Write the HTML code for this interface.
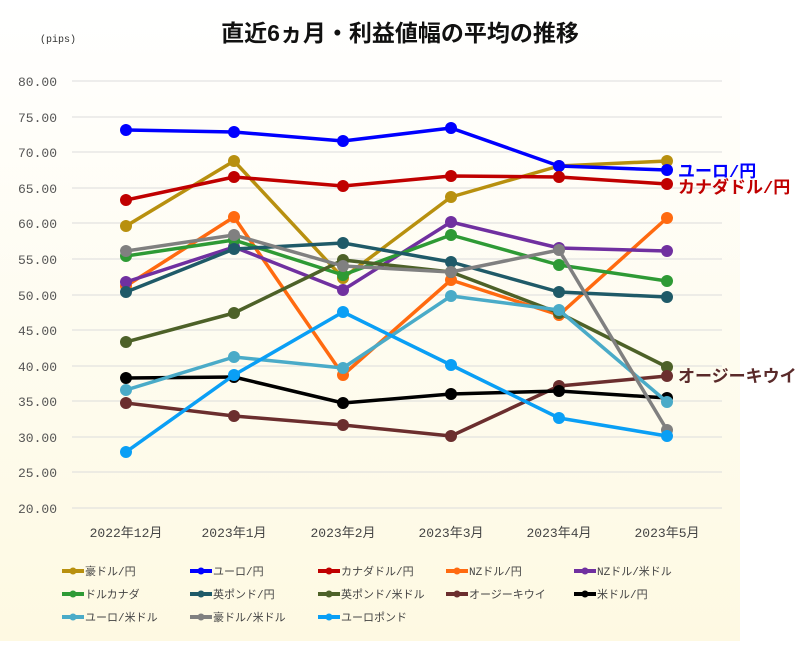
<!DOCTYPE html>
<html><head><meta charset="utf-8"><style>
body{margin:0;background:#fff}
text{font-family:"Liberation Mono","Noto Sans CJK JP",monospace}
</style></head><body>
<svg width="800" height="641" xmlns="http://www.w3.org/2000/svg">
<defs><linearGradient id="bg" x1="0" y1="0" x2="0" y2="1"><stop offset="0" stop-color="#ffffff"/><stop offset="1" stop-color="#fef9e2"/></linearGradient>
<marker id="m1" markerUnits="userSpaceOnUse" markerWidth="14" markerHeight="14" refX="7" refY="7"><circle cx="7" cy="7" r="6" fill="#b8900f"/></marker>
<marker id="m2" markerUnits="userSpaceOnUse" markerWidth="14" markerHeight="14" refX="7" refY="7"><circle cx="7" cy="7" r="6" fill="#0000ff"/></marker>
<marker id="m3" markerUnits="userSpaceOnUse" markerWidth="14" markerHeight="14" refX="7" refY="7"><circle cx="7" cy="7" r="6" fill="#c00000"/></marker>
<marker id="m4" markerUnits="userSpaceOnUse" markerWidth="14" markerHeight="14" refX="7" refY="7"><circle cx="7" cy="7" r="6" fill="#ff6a10"/></marker>
<marker id="m5" markerUnits="userSpaceOnUse" markerWidth="14" markerHeight="14" refX="7" refY="7"><circle cx="7" cy="7" r="6" fill="#7030a0"/></marker>
<marker id="m6" markerUnits="userSpaceOnUse" markerWidth="14" markerHeight="14" refX="7" refY="7"><circle cx="7" cy="7" r="6" fill="#2e9a35"/></marker>
<marker id="m7" markerUnits="userSpaceOnUse" markerWidth="14" markerHeight="14" refX="7" refY="7"><circle cx="7" cy="7" r="6" fill="#1f5a68"/></marker>
<marker id="m8" markerUnits="userSpaceOnUse" markerWidth="14" markerHeight="14" refX="7" refY="7"><circle cx="7" cy="7" r="6" fill="#4d6128"/></marker>
<marker id="m9" markerUnits="userSpaceOnUse" markerWidth="14" markerHeight="14" refX="7" refY="7"><circle cx="7" cy="7" r="6" fill="#6b2e2e"/></marker>
<marker id="m10" markerUnits="userSpaceOnUse" markerWidth="14" markerHeight="14" refX="7" refY="7"><circle cx="7" cy="7" r="6" fill="#000000"/></marker>
<marker id="m11" markerUnits="userSpaceOnUse" markerWidth="14" markerHeight="14" refX="7" refY="7"><circle cx="7" cy="7" r="6" fill="#4aabc8"/></marker>
<marker id="m12" markerUnits="userSpaceOnUse" markerWidth="14" markerHeight="14" refX="7" refY="7"><circle cx="7" cy="7" r="6" fill="#808080"/></marker>
<marker id="m13" markerUnits="userSpaceOnUse" markerWidth="14" markerHeight="14" refX="7" refY="7"><circle cx="7" cy="7" r="6" fill="#0a9ff5"/></marker>
</defs>
<rect x="0" y="0" width="740" height="641" fill="url(#bg)"/>
<text x="400" y="41" text-anchor="middle" font-size="23" font-weight="bold" fill="#111" style="font-family:'Liberation Sans','Noto Sans CJK JP',sans-serif">直近6ヵ月・利益値幅の平均の推移</text>
<text x="40" y="42" font-size="10" fill="#333">(pips)</text>
<g stroke="#dcdcdc" stroke-width="1">
<line x1="72" x2="722" y1="81" y2="81"/><line x1="72" x2="722" y1="117" y2="117"/><line x1="72" x2="722" y1="152" y2="152"/><line x1="72" x2="722" y1="188" y2="188"/><line x1="72" x2="722" y1="223" y2="223"/><line x1="72" x2="722" y1="259" y2="259"/><line x1="72" x2="722" y1="295" y2="295"/><line x1="72" x2="722" y1="330" y2="330"/><line x1="72" x2="722" y1="366" y2="366"/><line x1="72" x2="722" y1="401" y2="401"/><line x1="72" x2="722" y1="437" y2="437"/><line x1="72" x2="722" y1="472" y2="472"/><line x1="72" x2="722" y1="508" y2="508"/>
</g>
<g font-size="13" fill="#555" text-anchor="end">
<text x="57" y="86">80.00</text><text x="57" y="122">75.00</text><text x="57" y="157">70.00</text><text x="57" y="193">65.00</text><text x="57" y="228">60.00</text><text x="57" y="264">55.00</text><text x="57" y="300">50.00</text><text x="57" y="335">45.00</text><text x="57" y="371">40.00</text><text x="57" y="406">35.00</text><text x="57" y="442">30.00</text><text x="57" y="477">25.00</text><text x="57" y="513">20.00</text>
</g>
<g font-size="13" fill="#444" text-anchor="middle">
<text x="126" y="537">2022年12月</text><text x="234" y="537">2023年1月</text><text x="343" y="537">2023年2月</text><text x="451" y="537">2023年3月</text><text x="559" y="537">2023年4月</text><text x="667" y="537">2023年5月</text>
</g>
<g fill="none" stroke-width="3.5" stroke-linejoin="round">
<polyline stroke="#b8900f" marker-start="url(#m1)" marker-mid="url(#m1)" marker-end="url(#m1)" points="126,226 234,161 343,278 451,197 559,166 667,161"/>
<polyline stroke="#0000ff" marker-start="url(#m2)" marker-mid="url(#m2)" marker-end="url(#m2)" points="126,130 234,132 343,141 451,128 559,166 667,170"/>
<polyline stroke="#c00000" marker-start="url(#m3)" marker-mid="url(#m3)" marker-end="url(#m3)" points="126,200 234,177 343,186 451,176 559,177 667,184"/>
<polyline stroke="#ff6a10" marker-start="url(#m4)" marker-mid="url(#m4)" marker-end="url(#m4)" points="126,286 234,217 343,375 451,280 559,315 667,218"/>
<polyline stroke="#7030a0" marker-start="url(#m5)" marker-mid="url(#m5)" marker-end="url(#m5)" points="126,282 234,247 343,290 451,222 559,248 667,251"/>
<polyline stroke="#2e9a35" marker-start="url(#m6)" marker-mid="url(#m6)" marker-end="url(#m6)" points="126,256 234,240 343,275 451,235 559,265 667,281"/>
<polyline stroke="#1f5a68" marker-start="url(#m7)" marker-mid="url(#m7)" marker-end="url(#m7)" points="126,292 234,249 343,243 451,262 559,292 667,297"/>
<polyline stroke="#4d6128" marker-start="url(#m8)" marker-mid="url(#m8)" marker-end="url(#m8)" points="126,342 234,313 343,260 451,272 559,313 667,367"/>
<polyline stroke="#6b2e2e" marker-start="url(#m9)" marker-mid="url(#m9)" marker-end="url(#m9)" points="126,403 234,416 343,425 451,436 559,386 667,376"/>
<polyline stroke="#000000" marker-start="url(#m10)" marker-mid="url(#m10)" marker-end="url(#m10)" points="126,378 234,377 343,403 451,394 559,391 667,398"/>
<polyline stroke="#4aabc8" marker-start="url(#m11)" marker-mid="url(#m11)" marker-end="url(#m11)" points="126,390 234,357 343,368 451,296 559,310 667,402"/>
<polyline stroke="#808080" marker-start="url(#m12)" marker-mid="url(#m12)" marker-end="url(#m12)" points="126,251 234,235 343,266 451,272 559,250 667,430"/>
<polyline stroke="#0a9ff5" marker-start="url(#m13)" marker-mid="url(#m13)" marker-end="url(#m13)" points="126,452 234,375 343,312 451,365 559,418 667,436"/>
</g>
<g font-size="17" font-weight="bold" style="font-family:'Liberation Sans','Noto Sans CJK JP',sans-serif">
<text x="678" y="177" fill="#0000ff">ユーロ/円</text>
<text x="678" y="193" fill="#c00000">カナダドル/円</text>
<text x="678" y="382" fill="#5a2a2a">オージーキウイ</text>
</g>
<g font-size="11" fill="#444">
<g transform="translate(62,571)"><line x1="0" x2="22" stroke="#b8900f" stroke-width="4"/><circle cx="11" r="3.5" fill="#b8900f"/><text x="23" y="4">豪ドル/円</text></g>
<g transform="translate(190,571)"><line x1="0" x2="22" stroke="#0000ff" stroke-width="4"/><circle cx="11" r="3.5" fill="#0000ff"/><text x="23" y="4">ユーロ/円</text></g>
<g transform="translate(318,571)"><line x1="0" x2="22" stroke="#c00000" stroke-width="4"/><circle cx="11" r="3.5" fill="#c00000"/><text x="23" y="4">カナダドル/円</text></g>
<g transform="translate(446,571)"><line x1="0" x2="22" stroke="#ff6a10" stroke-width="4"/><circle cx="11" r="3.5" fill="#ff6a10"/><text x="23" y="4">NZドル/円</text></g>
<g transform="translate(574,571)"><line x1="0" x2="22" stroke="#7030a0" stroke-width="4"/><circle cx="11" r="3.5" fill="#7030a0"/><text x="23" y="4">NZドル/米ドル</text></g>
<g transform="translate(62,594)"><line x1="0" x2="22" stroke="#2e9a35" stroke-width="4"/><circle cx="11" r="3.5" fill="#2e9a35"/><text x="23" y="4">ドルカナダ</text></g>
<g transform="translate(190,594)"><line x1="0" x2="22" stroke="#1f5a68" stroke-width="4"/><circle cx="11" r="3.5" fill="#1f5a68"/><text x="23" y="4">英ポンド/円</text></g>
<g transform="translate(318,594)"><line x1="0" x2="22" stroke="#4d6128" stroke-width="4"/><circle cx="11" r="3.5" fill="#4d6128"/><text x="23" y="4">英ポンド/米ドル</text></g>
<g transform="translate(446,594)"><line x1="0" x2="22" stroke="#6b2e2e" stroke-width="4"/><circle cx="11" r="3.5" fill="#6b2e2e"/><text x="23" y="4">オージーキウイ</text></g>
<g transform="translate(574,594)"><line x1="0" x2="22" stroke="#000" stroke-width="4"/><circle cx="11" r="3.5" fill="#000"/><text x="23" y="4">米ドル/円</text></g>
<g transform="translate(62,617)"><line x1="0" x2="22" stroke="#4aabc8" stroke-width="4"/><circle cx="11" r="3.5" fill="#4aabc8"/><text x="23" y="4">ユーロ/米ドル</text></g>
<g transform="translate(190,617)"><line x1="0" x2="22" stroke="#808080" stroke-width="4"/><circle cx="11" r="3.5" fill="#808080"/><text x="23" y="4">豪ドル/米ドル</text></g>
<g transform="translate(318,617)"><line x1="0" x2="22" stroke="#0a9ff5" stroke-width="4"/><circle cx="11" r="3.5" fill="#0a9ff5"/><text x="23" y="4">ユーロポンド</text></g>
</g>
</svg>
</body></html>
